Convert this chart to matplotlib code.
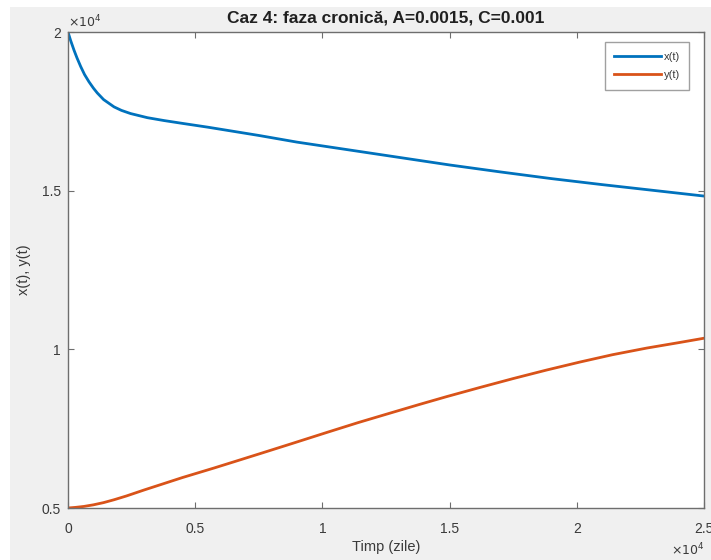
import matplotlib
matplotlib.use("Agg")
import matplotlib.pyplot as plt
from matplotlib.patches import Rectangle
from matplotlib.ticker import FuncFormatter

plt.rcParams["font.family"] = ["Liberation Sans", "DejaVu Sans"]

# Time (days) and populations, sampled along the two trajectories
t_x = [0, 100, 235, 350, 500, 650, 825, 1000, 1150, 1400, 1810, 2100, 2460,
       3120, 3770, 4500, 5500, 6500, 7500, 9000, 11000, 13000, 15000,
       17000, 19000, 21000, 23000, 25000]
x_vals = [20000, 19740, 19430, 19190, 18910, 18660, 18430, 18230, 18080,
          17870, 17640, 17530, 17430, 17300, 17210, 17120, 17000, 16870,
          16740, 16530, 16290, 16050, 15810, 15590, 15380, 15190, 15010,
          14830]

t_y = [0, 300, 630, 1000, 1400, 1810, 2300, 3000, 3770, 4500, 5740, 6500,
       7575, 8800, 10170, 11400, 12660, 13800, 14885, 16200, 17505, 18800,
       20125, 21400, 22750, 24000, 25000]
y_vals = [5000, 5020, 5050, 5100, 5170, 5260, 5380, 5570, 5770, 5960, 6260,
          6450, 6720, 7030, 7380, 7690, 7990, 8260, 8510, 8800, 9080, 9345,
          9600, 9830, 10040, 10210, 10350]

x_ticks = [0, 5000, 10000, 15000, 20000, 25000]
y_ticks = [5000, 10000, 15000, 20000]

BLUE = "#0072BD"
ORANGE = "#D95319"
AXIS = "#6e6e6e"
TEXT = "#3a3a3a"

fig = plt.figure(figsize=(7.11, 5.6), dpi=100)
fig.patch.set_facecolor("white")
# grey window background, leaving a thin white margin top/left
fig.patches.append(Rectangle((10 / 711, 0), 1, 1 - 7 / 560,
                             transform=fig.transFigure,
                             facecolor="#f0f0f0", edgecolor="none", zorder=-10))

ax = fig.add_axes([68 / 711, 1 - 508 / 560, (704 - 68) / 711, (508 - 32) / 560])
ax.set_facecolor("white")

ax.plot(t_x, x_vals, color=BLUE, lw=2.0, label="x(t)")
ax.plot(t_y, y_vals, color=ORANGE, lw=2.0, label="y(t)")

ax.set_xlim(0, 25000)
ax.set_ylim(5000, 20000)
ax.set_xticks(x_ticks)
ax.set_yticks(y_ticks)
fmt = FuncFormatter(lambda v, p: f"{v / 1e4:g}")
ax.xaxis.set_major_formatter(fmt)
ax.yaxis.set_major_formatter(fmt)

ax.tick_params(direction="in", length=4, width=0.8, color=AXIS,
               labelcolor=TEXT, labelsize=10, top=True, right=True)
ax.tick_params(axis="x", pad=10)
ax.tick_params(axis="y", pad=5)
for s in ax.spines.values():
    s.set_color(AXIS)
    s.set_linewidth(1.0)

# exponent multipliers
ax.text(0.0, 1.003, r"$\times10^{4}$", transform=ax.transAxes, ha="left",
        va="bottom", fontsize=9, color=TEXT)
ax.text(1.0, -0.07, r"$\times10^{4}$", transform=ax.transAxes, ha="right",
        va="top", fontsize=9, color=TEXT)

ax.set_title("Caz 4: faza cronică, A=0.0015, C=0.001", fontsize=12.5,
             fontweight="bold", color="#202020", pad=7)
ax.set_xlabel("Timp (zile)", fontsize=10.5, color=TEXT, labelpad=3)
ax.set_ylabel("x(t), y(t)", fontsize=10.5, color=TEXT, labelpad=8)

leg = ax.legend(loc="upper right", bbox_to_anchor=(0.9855, 0.99), fontsize=8,
                handlelength=4.2, handletextpad=0.25, borderpad=0.85,
                labelspacing=0.75, fancybox=False, framealpha=1,
                edgecolor="#a0a0a0")
leg.get_frame().set_linewidth(1.0)
for txt in leg.get_texts():
    txt.set_color(TEXT)

fig.savefig("out.png", dpi=100, facecolor=fig.get_facecolor())
